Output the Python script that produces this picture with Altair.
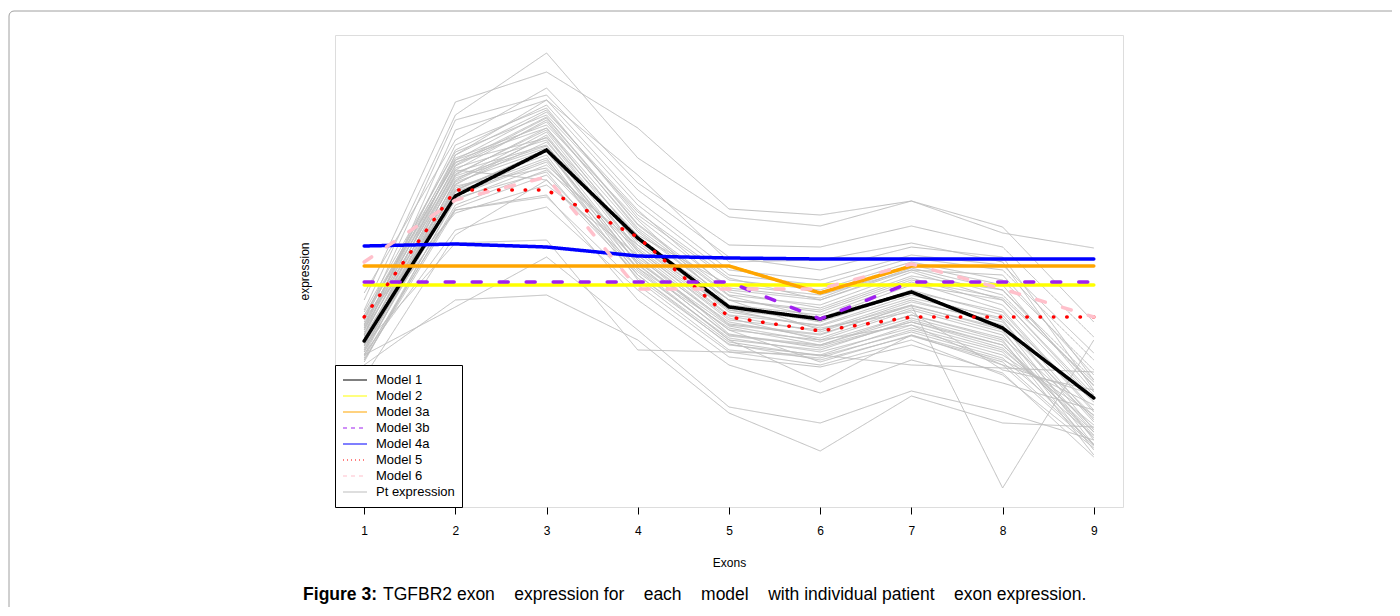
import altair as alt
import pandas as pd

exons = [1, 2, 3, 4, 5, 6, 7, 8, 9]

model_names = ["Model 1", "Model 2", "Model 3a", "Model 3b", "Model 4a", "Model 5", "Model 6"]
model_1 = [15.9, 30.4, 35.0, 26.2, 19.3, 18.1, 20.8, 17.2, 10.2]
model_2 = [21.5, 21.5, 21.5, 21.5, 21.5, 21.5, 21.5, 21.5, 21.5]
model_3a = [23.4, 23.4, 23.4, 23.4, 23.4, 20.7, 23.4, 23.4, 23.4]
model_3b = [21.8, 21.8, 21.8, 21.8, 21.8, 18.1, 21.8, 21.8, 21.8]
model_4a = [25.4, 25.6, 25.3, 24.4, 24.2, 24.1, 24.1, 24.1, 24.1]
model_5 = [18.3, 31.0, 31.0, 26.3, 18.3, 16.9, 18.3, 18.3, 18.3]
model_6 = [23.8, 30.0, 32.3, 21.1, 21.1, 21.1, 23.6, 21.1, 18.3]
model_values = [model_1, model_2, model_3a, model_3b, model_4a, model_5, model_6]

# individual patient exon expression (grey lines)
patient_rows = [
    [20.0, 39.8, 42.8, 37.2, 29.1, 28.5, 29.9, 27.3, 17.8],
    [19.0, 38.5, 44.7, 34.2, 28.3, 27.4, 29.9, 26.7, 25.2],
    [20.7, 36.0, 41.2, 31.7, 25.5, 25.3, 27.4, 25.3, 16.3],
    [15.5, 25.7, 26.0, 15.0, 14.8, 14.5, 13.5, 13.2, 12.8],
    [13.5, 20.0, 20.5, 16.0, 8.7, 4.9, 10.4, 7.7, 7.3],
    [14.5, 19.3, 24.3, 17.0, 9.3, 7.7, 10.9, 8.8, 6.0],
    [16.0, 31.0, 35.0, 26.0, 20.0, 17.0, 19.5, 1.2, 16.0],
    [18.0, 38.0, 40.5, 31.0, 24.3, 23.0, 25.3, 24.3, 12.0],
    [16.5, 37.0, 40.0, 32.5, 23.8, 24.0, 25.7, 23.8, 11.0],
    [14.0, 29.0, 30.5, 20.0, 13.5, 10.7, 14.0, 11.7, 9.0],
    [18.0, 35.0, 39.5, 29.5, 22.5, 21.5, 24.2, 23.0, 14.0],
    [17.5, 34.5, 39.0, 28.5, 22.0, 21.0, 23.8, 22.0, 13.0],
    [17.0, 34.0, 38.8, 29.0, 21.0, 20.0, 23.2, 21.0, 12.0],
    [16.5, 33.5, 38.2, 27.5, 20.5, 19.5, 22.8, 20.0, 10.5],
    [16.0, 33.0, 38.0, 27.0, 20.0, 19.0, 22.2, 19.5, 10.0],
    [18.5, 34.2, 37.5, 28.0, 19.5, 18.5, 21.8, 19.0, 9.0],
    [15.5, 32.5, 37.2, 26.0, 19.0, 18.0, 21.0, 18.5, 8.0],
    [15.0, 32.0, 36.8, 25.5, 18.5, 17.5, 20.5, 18.0, 7.0],
    [14.5, 31.5, 36.5, 25.0, 18.0, 17.0, 20.0, 17.5, 6.0],
    [18.2, 33.8, 36.2, 26.5, 21.5, 20.5, 23.0, 20.5, 11.5],
    [17.8, 33.2, 36.0, 24.5, 17.5, 16.5, 19.5, 17.0, 5.5],
    [17.2, 32.8, 35.5, 24.0, 17.0, 16.0, 19.0, 16.5, 5.0],
    [16.8, 32.2, 35.2, 23.5, 16.5, 15.5, 18.5, 16.0, 4.5],
    [16.2, 31.8, 35.0, 23.0, 16.0, 15.0, 18.0, 15.5, 6.5],
    [15.8, 31.2, 34.5, 22.5, 15.5, 14.5, 17.5, 15.0, 7.5],
    [15.2, 30.8, 34.2, 22.0, 15.0, 14.2, 17.0, 14.5, 8.5],
    [14.8, 30.5, 34.0, 23.8, 17.0, 13.8, 16.5, 14.0, 9.5],
    [14.2, 30.0, 33.5, 25.0, 18.2, 16.0, 17.5, 13.5, 10.5],
    [14.0, 29.5, 33.0, 25.5, 19.0, 17.2, 18.8, 13.0, 11.0],
    [18.8, 34.8, 38.5, 28.8, 22.2, 20.0, 23.0, 22.5, 12.5],
    [17.4, 33.4, 37.8, 27.2, 20.4, 18.2, 21.5, 20.0, 10.2],
    [16.6, 32.6, 37.0, 26.2, 19.4, 17.8, 20.8, 18.8, 8.8],
    [15.6, 31.6, 35.8, 25.2, 18.4, 16.8, 19.8, 17.8, 7.8],
    [16.4, 31.0, 34.8, 24.2, 17.8, 16.2, 19.2, 16.8, 6.8],
    [15.4, 30.4, 33.8, 23.2, 17.2, 15.5, 18.2, 15.8, 6.2],
    [14.4, 29.2, 32.5, 22.8, 16.2, 14.8, 17.2, 14.8, 5.5],
    [17.6, 34.0, 37.2, 26.8, 20.0, 18.8, 22.0, 20.2, 11.8],
    [16.0, 32.4, 35.4, 25.8, 18.8, 17.4, 20.2, 18.2, 9.8],
    [15.0, 31.4, 33.2, 23.8, 17.4, 15.8, 18.5, 16.2, 8.2],
    [17.0, 33.0, 32.0, 22.5, 15.8, 14.4, 16.8, 14.2, 6.4],
    [18.2, 28.7, 31.5, 24.5, 16.6, 15.2, 17.8, 15.5, 7.2],
    [15.4, 34.5, 40.0, 30.0, 23.0, 22.0, 24.5, 23.5, 14.7],
    [16.2, 29.0, 30.3, 21.5, 14.8, 13.5, 16.0, 12.5, 5.2],
    [14.6, 27.0, 29.3, 21.0, 14.3, 13.3, 15.5, 12.7, 4.3],
    [17.2, 35.5, 39.2, 28.2, 21.2, 20.2, 23.5, 21.5, 10.8],
    [13.8, 30.2, 32.8, 22.2, 15.6, 14.0, 16.4, 13.8, 5.6],
    [18.4, 33.7, 38.3, 27.6, 20.8, 19.2, 22.4, 21.0, 11.4],
    [15.6, 31.9, 36.3, 24.8, 17.6, 16.6, 19.4, 17.2, 8.4],
    [14.8, 30.9, 35.0, 23.6, 16.4, 15.4, 17.8, 15.2, 6.8],
    [12.3, 26.5, 32.0, 23.2, 16.0, 11.8, 16.5, 13.5, 5.4],
]

series_domain = model_names + ["Pt expression"]
series_colors = ["#000000", "#FFFF00", "#FFA500", "#A020F0", "#0000FF", "#FF0000", "#FFC0CB", "#BEBEBE"]
# dash patterns of the thick model lines, keyed by series
line_dash_keys = ["Model 3b", "Model 5", "Model 6", "solid"]
line_dash_patterns = [[9, 18], [0.5, 12.8], [9, 18], [1, 0]]

SP4 = "\u00a0\u00a0\u00a0 "
caption_bold = "Figure 3:"
caption_rest = ("TGFBR2 exon" + SP4 + "expression for" + SP4 + "each" + SP4 + "model" + SP4
                + "with individual patient" + SP4 + "exon expression.")

FONT = "Liberation Sans"

# ---- build tables ----
pt_records = []
for i, row in enumerate(patient_rows):
    for e, v in zip(exons, row):
        pt_records.append({"exon": e, "value": v, "series": "Pt expression",
                           "dashkey": "solid", "patient": f"pt{i:02d}", "order": 0})
pt_df = pd.DataFrame(pt_records)

m_records = []
for k, (name, vals) in enumerate(zip(model_names, model_values)):
    for e, v in zip(exons, vals):
        m_records.append({"exon": e, "value": v, "series": name,
                          "dashkey": name if name in line_dash_keys else "solid",
                          "patient": name, "order": k + 1})
m_df = pd.DataFrame(m_records)

x_enc = alt.X(
    "exon:Q",
    scale=alt.Scale(domain=[0.68, 9.32], nice=False, zero=False),
    axis=alt.Axis(
        values=exons, format="d", tickSize=7, tickColor="#000000", tickWidth=1,
        domain=False, grid=False, labelFont=FONT, labelFontSize=12, labelColor="#000000",
        labelPadding=11, title="Exons", titleFont=FONT, titleFontSize=12,
        titleFontWeight="normal", titleColor="#000000", titlePadding=21,
    ),
)
y_enc = alt.Y(
    "value:Q",
    scale=alt.Scale(domain=[-0.7, 46.5], nice=False, zero=False),
    axis=alt.Axis(
        labels=False, ticks=False, domain=False, grid=False, title="expression",
        titleFont=FONT, titleFontSize=12, titleFontWeight="normal",
        titleColor="#000000", titlePadding=24,
    ),
)

dash_expr = (
    "datum.value === 'Model 3b' || datum.value === 'Model 6' ? [4, 4] : "
    "(datum.value === 'Model 5' ? [1, 3] : [1, 0])"
)

color_enc = alt.Color(
    "series:N",
    scale=alt.Scale(domain=series_domain, range=series_colors),
    legend=alt.Legend(
        title=None, orient="bottom-left", offset=0, padding=7,
        fillColor="#FFFFFF", strokeColor="#000000",
        symbolType="stroke", symbolSize=576, symbolStrokeWidth=1.2,
        symbolDash=alt.ExprRef(expr=dash_expr),
        labelFont=FONT, labelFontSize=13, labelColor="#000000", labelOffset=8,
        rowPadding=0, clipHeight=16,
    ),
)
dash_enc = alt.StrokeDash(
    "dashkey:N",
    scale=alt.Scale(domain=line_dash_keys, range=line_dash_patterns),
    legend=None,
)

grey = alt.Chart(pt_df).mark_line(strokeWidth=1, clip=True).encode(
    x=x_enc, y=y_enc, color=color_enc, strokeDash=dash_enc, detail="patient:N"
)

models = alt.Chart(m_df).mark_line(strokeWidth=3.5, strokeCap="round", clip=True).encode(
    x=x_enc, y=y_enc, color=color_enc, strokeDash=dash_enc, detail="patient:N",
    order=alt.Order("order:Q"),
)

frame = alt.Chart(pd.DataFrame({"k": [0]})).mark_rect(
    fill=None, fillOpacity=0, stroke="#A0A0A0", strokeWidth=1, cornerRadius=5
).encode(x=alt.value(-326), x2=alt.value(1100), y=alt.value(-24), y2=alt.value(640))

cap1 = alt.Chart(pd.DataFrame({"t": [caption_bold]})).mark_text(
    font=FONT, fontSize=17.5, fontWeight="bold", align="right", baseline="middle", color="#000000"
).encode(x=alt.value(42), y=alt.value(560), text="t:N")

cap2 = alt.Chart(pd.DataFrame({"t": [caption_rest]})).mark_text(
    font=FONT, fontSize=17.5, fontWeight="normal", align="left", baseline="middle", color="#000000"
).encode(x=alt.value(48), y=alt.value(560), text="t:N")

chart = alt.layer(frame, grey, models, cap1, cap2).properties(
    width=788, height=472,
    autosize=alt.AutoSizeParams(type="none"),
    padding={"left": 327, "top": 27, "right": 269, "bottom": 100},
).configure_view(stroke="#222222", strokeWidth=1).configure(background="#FFFFFF")

chart.save("out.html", embed_options={"renderer": "svg", "actions": False})
